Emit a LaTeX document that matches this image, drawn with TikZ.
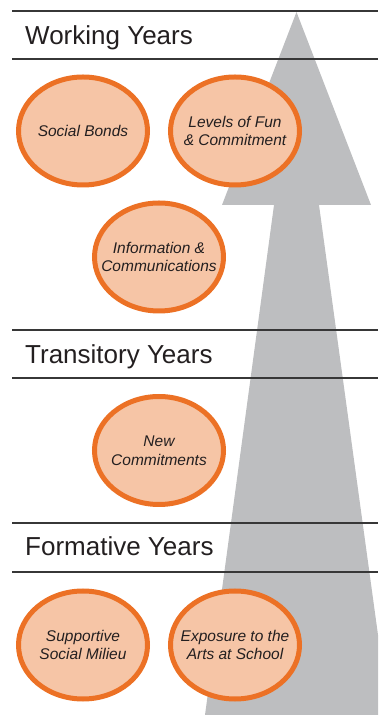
\documentclass[tikz,border=0pt]{standalone}
\usepackage{fontspec}
\setmainfont{Liberation Sans}
\usetikzlibrary{shapes.geometric}
\definecolor{rust}{RGB}{236,113,37}
\definecolor{peach}{RGB}{246,197,166}
\definecolor{stone}{RGB}{189,190,192}
\definecolor{ink}{RGB}{35,31,32}
\definecolor{rule}{RGB}{55,55,55}

\begin{document}
\begin{tikzpicture}[x=1pt,y=1pt,
          ov/.style={ellipse,draw=rust,line width=5pt,fill=peach,inner xsep=-30pt,inner ysep=0pt,
            minimum width=129pt,minimum height=108pt,align=center,text=ink,
            font=\fontsize{15.5}{18.5}\selectfont\itshape},
          band/.style={anchor=base west,inner sep=0pt,text=ink,font=\fontsize{26}{30}\selectfont}]
        \clip (0,0) rectangle (378,715);
        % growth arrow behind everything
        \fill[stone] (205,0) -- (274,510) -- (222,510) -- (296.5,703) -- (371,510)
          -- (319,510) -- (389,0) -- cycle;
        % section rules
        \foreach \y in {704,656,385,337,192,143}
          \draw[rule,line width=1.2pt] (12,\y) -- (378,\y);
        \node[band] (wy) at (25,670.7) {Working Years};
        \node[band] (ty) at (25,351.7) {Transitory Years};
        \node[band] (fy) at (25,159) {Formative Years};
        \node[ov] (sb) at (83,584) {Social Bonds};
        \node[ov] (lf) at (235,584) {Levels of Fun\\\& Commitment};
        \node[ov] (ic) at (159,458) {Information \&\\Communications};
        \node[ov] (nc) at (159,264.5) {New\\Commitments};
        \node[ov] (sm) at (83,70) {Supportive\\Social Milieu};
        \node[ov] (ex) at (235,70) {Exposure to the\\Arts at School};
      \end{tikzpicture}
\end{document}
